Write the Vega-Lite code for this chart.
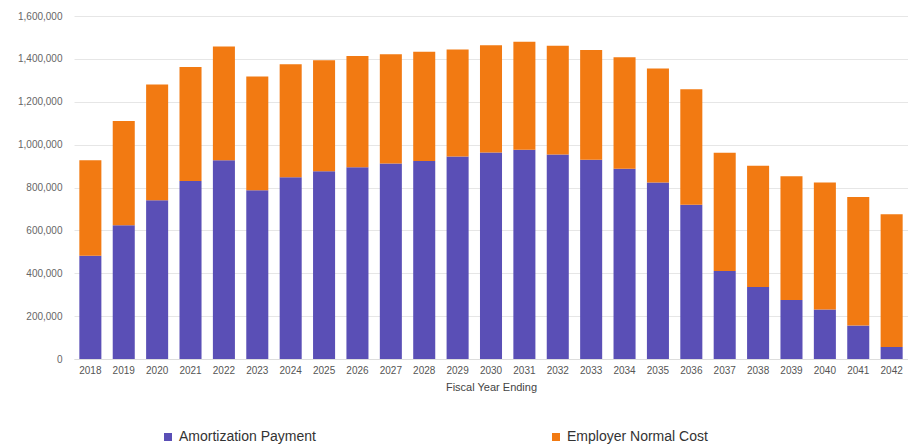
{
  "$schema": "https://vega.github.io/schema/vega-lite/v6.json",
  "width": 834,
  "height": 343,
  "autosize": {"type": "none"},
  "padding": {"left": 74, "top": 16, "right": 0, "bottom": 86},
  "background": "#ffffff",
  "data": {"values": [
    {"year": "2018", "series": "Amortization Payment", "o": 0, "value": 482000},
    {"year": "2018", "series": "Employer Normal Cost", "o": 1, "value": 445000},
    {"year": "2019", "series": "Amortization Payment", "o": 0, "value": 624000},
    {"year": "2019", "series": "Employer Normal Cost", "o": 1, "value": 486000},
    {"year": "2020", "series": "Amortization Payment", "o": 0, "value": 740000},
    {"year": "2020", "series": "Employer Normal Cost", "o": 1, "value": 540000},
    {"year": "2021", "series": "Amortization Payment", "o": 0, "value": 830000},
    {"year": "2021", "series": "Employer Normal Cost", "o": 1, "value": 532000},
    {"year": "2022", "series": "Amortization Payment", "o": 0, "value": 927000},
    {"year": "2022", "series": "Employer Normal Cost", "o": 1, "value": 531000},
    {"year": "2023", "series": "Amortization Payment", "o": 0, "value": 787000},
    {"year": "2023", "series": "Employer Normal Cost", "o": 1, "value": 531000},
    {"year": "2024", "series": "Amortization Payment", "o": 0, "value": 848000},
    {"year": "2024", "series": "Employer Normal Cost", "o": 1, "value": 527000},
    {"year": "2025", "series": "Amortization Payment", "o": 0, "value": 876000},
    {"year": "2025", "series": "Employer Normal Cost", "o": 1, "value": 518000},
    {"year": "2026", "series": "Amortization Payment", "o": 0, "value": 895000},
    {"year": "2026", "series": "Employer Normal Cost", "o": 1, "value": 518000},
    {"year": "2027", "series": "Amortization Payment", "o": 0, "value": 912000},
    {"year": "2027", "series": "Employer Normal Cost", "o": 1, "value": 509000},
    {"year": "2028", "series": "Amortization Payment", "o": 0, "value": 924000},
    {"year": "2028", "series": "Employer Normal Cost", "o": 1, "value": 509000},
    {"year": "2029", "series": "Amortization Payment", "o": 0, "value": 945000},
    {"year": "2029", "series": "Employer Normal Cost", "o": 1, "value": 499000},
    {"year": "2030", "series": "Amortization Payment", "o": 0, "value": 963000},
    {"year": "2030", "series": "Employer Normal Cost", "o": 1, "value": 500000},
    {"year": "2031", "series": "Amortization Payment", "o": 0, "value": 976000},
    {"year": "2031", "series": "Employer Normal Cost", "o": 1, "value": 504000},
    {"year": "2032", "series": "Amortization Payment", "o": 0, "value": 954000},
    {"year": "2032", "series": "Employer Normal Cost", "o": 1, "value": 507000},
    {"year": "2033", "series": "Amortization Payment", "o": 0, "value": 929000},
    {"year": "2033", "series": "Employer Normal Cost", "o": 1, "value": 512000},
    {"year": "2034", "series": "Amortization Payment", "o": 0, "value": 888000},
    {"year": "2034", "series": "Employer Normal Cost", "o": 1, "value": 520000},
    {"year": "2035", "series": "Amortization Payment", "o": 0, "value": 823000},
    {"year": "2035", "series": "Employer Normal Cost", "o": 1, "value": 532000},
    {"year": "2036", "series": "Amortization Payment", "o": 0, "value": 720000},
    {"year": "2036", "series": "Employer Normal Cost", "o": 1, "value": 538000},
    {"year": "2037", "series": "Amortization Payment", "o": 0, "value": 411000},
    {"year": "2037", "series": "Employer Normal Cost", "o": 1, "value": 551000},
    {"year": "2038", "series": "Amortization Payment", "o": 0, "value": 336000},
    {"year": "2038", "series": "Employer Normal Cost", "o": 1, "value": 565000},
    {"year": "2039", "series": "Amortization Payment", "o": 0, "value": 275000},
    {"year": "2039", "series": "Employer Normal Cost", "o": 1, "value": 577000},
    {"year": "2040", "series": "Amortization Payment", "o": 0, "value": 231000},
    {"year": "2040", "series": "Employer Normal Cost", "o": 1, "value": 592000},
    {"year": "2041", "series": "Amortization Payment", "o": 0, "value": 156000},
    {"year": "2041", "series": "Employer Normal Cost", "o": 1, "value": 600000},
    {"year": "2042", "series": "Amortization Payment", "o": 0, "value": 56000},
    {"year": "2042", "series": "Employer Normal Cost", "o": 1, "value": 619000}
  ]},
  "mark": {"type": "bar"},
  "encoding": {
    "x": {
      "field": "year", "type": "ordinal",
      "scale": {"paddingInner": 0.34, "paddingOuter": 0.16},
      "axis": {
        "title": "Fiscal Year Ending", "titleFont": "Liberation Sans", "titleFontSize": 11,
        "titleFontWeight": "normal", "titleColor": "#444", "titlePadding": 6,
        "labelAngle": 0, "labelFont": "Liberation Sans", "labelFontSize": 10, "labelColor": "#555",
        "labelPadding": 6, "ticks": false, "domain": true, "domainColor": "#ddd"
      }
    },
    "y": {
      "field": "value", "type": "quantitative", "stack": "zero",
      "scale": {"domain": [0, 1600000], "nice": false},
      "axis": {
        "title": null, "values": [0, 200000, 400000, 600000, 800000, 1000000, 1200000, 1400000, 1600000],
        "format": ",d", "labelFont": "Liberation Sans", "labelFontSize": 10, "labelColor": "#666",
        "labelPadding": 12, "ticks": false, "domain": false, "gridColor": "#e6e6e6"
      }
    },
    "color": {
      "field": "series", "type": "nominal",
      "scale": {"domain": ["Amortization Payment", "Employer Normal Cost"], "range": ["#5a4fb6", "#f27a12"]},
      "legend": {
        "title": null, "orient": "none", "legendX": 87, "legendY": 414, "direction": "horizontal",
        "symbolType": "square", "symbolSize": 64, "labelFont": "Liberation Sans", "labelFontSize": 14,
        "labelColor": "#333", "labelOffset": 4, "columnPadding": 233, "labelLimit": 300
      }
    },
    "order": {"field": "o", "type": "quantitative"}
  },
  "config": {"view": {"stroke": null}}
}
